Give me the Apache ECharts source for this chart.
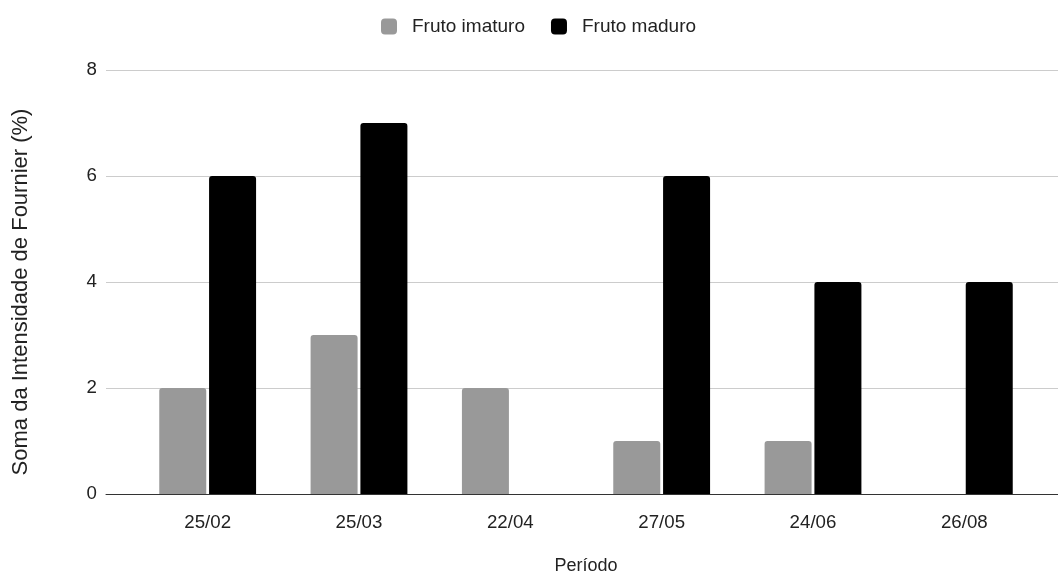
<!DOCTYPE html>
<html>
<head>
<meta charset="utf-8">
<script src="https://cdn.jsdelivr.net/npm/echarts@6/dist/echarts.min.js"></script>
<style>
  html, body { margin: 0; padding: 0; background: #fff; }
  #chart { width: 1058px; height: 574px; }
</style>
</head>
<body>
<div id="chart"></div>
<script>
// values
const periodos = ['25/02', '25/03', '22/04', '27/05', '24/06', '26/08'];
const frutoImaturo = [2, 3, 2, 1, 1, 0];
const frutoMaduro = [6, 7, 0, 6, 4, 4];
const yTicks = [0, 2, 4, 6, 8];

const font = 'Liberation Sans, Arial, sans-serif';
const chart = echarts.init(document.getElementById('chart'), null, { renderer: 'canvas' });

chart.setOption({
  animation: false,
  textStyle: { fontFamily: font },
  legend: {
    top: 12,
    left: 376,
    itemWidth: 16,
    itemHeight: 16,
    itemGap: 26,
    icon: 'roundRect',
    textStyle: { fontSize: 19, color: '#222', fontFamily: font, padding: [0, 0, 0, 10] },
    data: ['Fruto imaturo', 'Fruto maduro']
  },
  grid: [
    // bars
    { left: 132, right: 18, top: 70, bottom: 80, outerBoundsMode: 'none' },
    // wider grid only for the long gridlines / base line
    { left: 106, right: 0, top: 70, bottom: 80, outerBoundsMode: 'none' }
  ],
  xAxis: [
    {
      type: 'category',
      gridIndex: 0,
      data: periodos,
      axisLine: { show: false },
      axisTick: { show: false },
      axisLabel: { fontSize: 18.7, color: '#222', margin: 19, fontFamily: font },
      name: 'Período',
      nameLocation: 'middle',
      nameGap: 63,
      nameTextStyle: { fontSize: 18, color: '#222', fontFamily: font }
    },
    {
      type: 'value',
      gridIndex: 1,
      min: 0, max: 1,
      show: true,
      axisLine: { show: true, lineStyle: { color: '#333', width: 1 } },
      axisTick: { show: false },
      axisLabel: { show: false },
      splitLine: { show: false }
    }
  ],
  yAxis: [
    {
      type: 'value',
      gridIndex: 0,
      min: yTicks[0],
      max: yTicks[yTicks.length - 1],
      interval: 2,
      axisLine: { show: false },
      axisTick: { show: false },
      axisLabel: { show: false },
      splitLine: { show: false }
    },
    {
      type: 'value',
      gridIndex: 1,
      min: yTicks[0],
      max: yTicks[yTicks.length - 1],
      interval: 2,
      axisLine: { show: false },
      axisTick: { show: false },
      axisLabel: { fontSize: 18.7, color: '#222', margin: 9, fontFamily: font },
      splitLine: { show: true, lineStyle: { color: '#cccccc', width: 1 } },
      name: 'Soma da Intensidade de Fournier (%)',
      nameLocation: 'middle',
      nameGap: 74,
      nameTextStyle: { fontSize: 22, color: '#222', fontFamily: font, padding: [0, 20, 0, 0] }
    }
  ],
  series: [
    {
      name: 'Fruto imaturo',
      type: 'bar',
      xAxisIndex: 0,
      yAxisIndex: 0,
      data: frutoImaturo,
      barWidth: 47,
      barGap: '6%',
      itemStyle: { color: '#999999', borderRadius: [3, 3, 0, 0] }
    },
    {
      name: 'Fruto maduro',
      type: 'bar',
      xAxisIndex: 0,
      yAxisIndex: 0,
      data: frutoMaduro,
      barWidth: 47,
      barGap: '6%',
      itemStyle: { color: '#000000', borderRadius: [3, 3, 0, 0] }
    }
  ]
});
</script>
</body>
</html>
